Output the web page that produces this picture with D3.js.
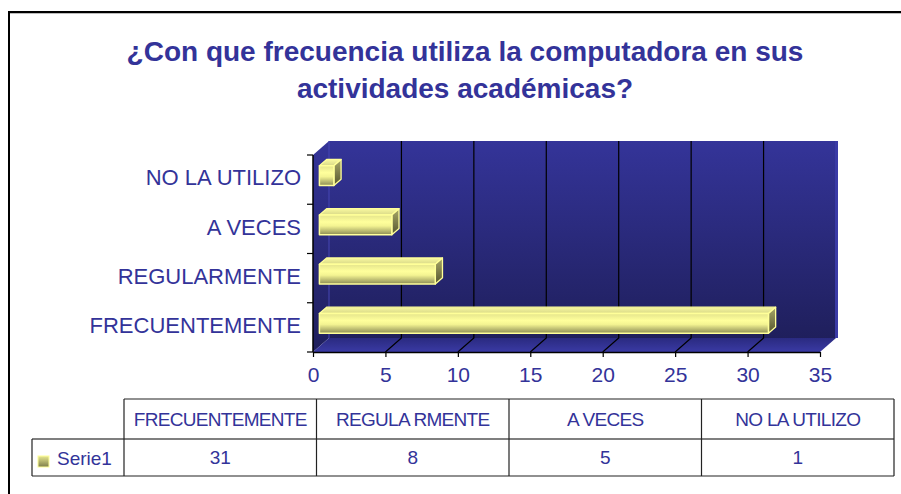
<!DOCTYPE html>
<html>
<head>
<meta charset="utf-8">
<script src="https://cdn.jsdelivr.net/npm/d3@7"></script>
<style>
  html, body { margin: 0; padding: 0; background: #ffffff; }
  svg { display: block; font-family: "Liberation Sans", Arial, sans-serif; }
</style>
</head>
<body>
<svg id="chart" width="901" height="494"></svg>
<script>
// ---- data ----
const titleLines = ["¿Con que frecuencia utiliza la computadora en sus", "actividades académicas?"];
const categories = ["FRECUENTEMENTE", "REGULARMENTE", "A VECES", "NO LA UTILIZO"];
const tableHeaders = ["FRECUENTEMENTE", "REGULA RMENTE", "A VECES", "NO LA  UTILIZO"];
const values = [31, 8, 5, 1];
const seriesName = "Serie1";
const xTicks = [0, 5, 10, 15, 20, 25, 30, 35];
const xDomain = [0, 35];

// ---- layout ----
const W = 901, H = 494;
const plot = { left: 313, right: 820, top: 155, bottom: 352 };
const depth = { dx: 16, dy: -14 };
const barDepth = [0.4, 0.85];
const blue = "#333399";

const svg = d3.select("#chart");
const defs = svg.append("defs");

function lg(id, stops, x2, y2) {
  const g = defs.append("linearGradient").attr("id", id)
    .attr("x1", 0).attr("y1", 0).attr("x2", x2).attr("y2", y2);
  stops.forEach(s => g.append("stop").attr("offset", s[0]).attr("stop-color", s[1]));
}
lg("wallGrad", [[0, "#343499"], [1, "#1f1f5c"]], 0, 1);
lg("floorGrad", [[0, "#2a2a80"], [1, "#3a3aa4"]], 0, 1);
lg("frontGrad", [[0, "#e4e48c"], [0.35, "#ffff9c"], [0.55, "#f4f492"], [1, "#8a8a55"]], 0, 1);
lg("topGrad", [[0, "#fafaa0"], [1, "#d8d888"]], 0, 1);
lg("sideGrad", [[0, "#a8a868"], [1, "#55552e"]], 0, 1);
lg("keyGrad", [[0, "#e8e890"], [1, "#7d7d4a"]], 0, 1);

// ---- outer frame ----
svg.append("line").attr("x1", 9).attr("y1", 12).attr("x2", W).attr("y2", 12)
  .attr("stroke", "#000").attr("stroke-width", 2);
svg.append("line").attr("x1", 10).attr("y1", 13.5).attr("x2", W).attr("y2", 13.5)
  .attr("stroke", "#bbb").attr("stroke-width", 1);
svg.append("line").attr("x1", 9).attr("y1", 11).attr("x2", 9).attr("y2", H)
  .attr("stroke", "#000").attr("stroke-width", 2);

// ---- title ----
svg.append("g").selectAll("text").data(titleLines).join("text")
  .attr("x", 465).attr("y", (d, i) => 61 + i * 37)
  .attr("text-anchor", "middle")
  .attr("font-size", 28).attr("font-weight", "bold").attr("fill", blue)
  .text(d => d);

// ---- scales ----
const x = d3.scaleLinear().domain(xDomain).range([plot.left, plot.right]);
const y = d3.scaleBand().domain(categories).range([plot.bottom, plot.top]);

const P = (px, py, f) => [px + depth.dx * f, py + depth.dy * f];
const poly = pts => "M" + pts.map(p => p.join(",")).join("L") + "Z";

// ---- walls ----
const g3 = svg.append("g");
g3.append("path").attr("d", poly([P(x(0), plot.top, 1), P(x(35), plot.top, 1), P(x(35), plot.bottom, 1), P(x(0), plot.bottom, 1)]))
  .attr("fill", "url(#wallGrad)");
g3.append("rect").attr("x", x(35) + depth.dx - 1).attr("y", plot.top + depth.dy)
  .attr("width", 3).attr("height", plot.bottom - plot.top)
  .attr("fill", "#3a3aa6");
g3.append("path").attr("d", poly([P(x(0), plot.top, 0), P(x(0), plot.top, 1), P(x(0), plot.bottom, 1), P(x(0), plot.bottom, 0)]))
  .attr("fill", "url(#wallGrad)");
g3.append("path").attr("d", poly([P(x(0), plot.bottom, 0), P(x(0), plot.bottom, 1), P(x(35), plot.bottom, 1), P(x(35), plot.bottom, 0)]))
  .attr("fill", "url(#floorGrad)");
g3.append("line")
  .attr("x1", x(0) + depth.dx).attr("y1", plot.top + depth.dy)
  .attr("x2", x(0) + depth.dx).attr("y2", plot.bottom + depth.dy)
  .attr("stroke", "#4646b4").attr("stroke-width", 1);

const inner = xTicks.filter(t => t > xDomain[0] && t < xDomain[1]);
g3.selectAll(".grid").data(inner).join("path").attr("class", "grid")
  .attr("d", t => "M" + [P(x(t), plot.bottom, 0), P(x(t), plot.bottom, 1), P(x(t), plot.top, 1)].map(p => p.join(",")).join("L"))
  .attr("fill", "none").attr("stroke", "#000").attr("stroke-width", 1.2);

// ---- bars ----
const bw = y.bandwidth();
const barTop = 0.331, barBot = 0.735;
const bars = svg.append("g").selectAll("g").data(categories.map((c, i) => ({ c, v: values[i] }))).join("g");
bars.each(function (d) {
  const g = d3.select(this);
  const y0 = y(d.c) + bw * barTop, y1 = y(d.c) + bw * barBot;
  const xa = x(0), xb = x(d.v);
  const [f0, f1] = barDepth;
  g.append("path").attr("d", poly([P(xa, y0, f0), P(xb, y0, f0), P(xb, y0, f1), P(xa, y0, f1)]))
    .attr("fill", "url(#topGrad)").attr("stroke", "#ffff99").attr("stroke-width", 1.3).attr("stroke-linejoin", "round");
  g.append("path").attr("d", poly([P(xb, y0, f0), P(xb, y0, f1), P(xb, y1, f1), P(xb, y1, f0)]))
    .attr("fill", "url(#sideGrad)").attr("stroke", "#ffff99").attr("stroke-width", 1.3).attr("stroke-linejoin", "round");
  g.append("path").attr("d", poly([P(xa, y0, f0), P(xb, y0, f0), P(xb, y1, f0), P(xa, y1, f0)]))
    .attr("fill", "url(#frontGrad)").attr("stroke", "#ffff99").attr("stroke-width", 1.5).attr("stroke-linejoin", "round");
});

// ---- axes ----
const xAxis = svg.append("g").attr("transform", `translate(0,${plot.bottom})`)
  .call(d3.axisBottom(x).tickValues(xTicks).tickSize(5).tickPadding(10).tickSizeOuter(0));
xAxis.select(".domain").attr("stroke", "#000").attr("stroke-width", 1.5);
xAxis.selectAll(".tick line").attr("stroke", "#000").attr("stroke-width", 1.2);
xAxis.selectAll(".tick text").attr("font-size", 21).attr("fill", blue)
  .attr("font-family", '"Liberation Sans", Arial, sans-serif');

svg.append("line").attr("x1", plot.left).attr("x2", plot.left).attr("y1", plot.top).attr("y2", plot.bottom)
  .attr("stroke", "#000").attr("stroke-width", 1.5);
const bounds = categories.map(c => y(c)).concat([plot.bottom]);
svg.append("g").selectAll("line").data(bounds).join("line")
  .attr("x1", plot.left - 6).attr("x2", plot.left).attr("y1", d => d).attr("y2", d => d)
  .attr("stroke", "#000").attr("stroke-width", 1.2);
svg.append("g").selectAll("text").data(categories).join("text")
  .attr("x", 301).attr("y", c => y(c) + bw / 2 - 2).attr("dy", "0.35em")
  .attr("text-anchor", "end").attr("font-size", 22).attr("fill", blue)
  .text(c => c);

// ---- data table ----
const tbl = { left: 32, colStart: 124, right: 894, top: 399, mid: 439, bottom: 476 };
const col = d3.scaleBand().domain(categories).range([tbl.colStart, tbl.right]);
const tg = svg.append("g").attr("stroke", "#222").attr("stroke-width", 1.2);
tg.append("line").attr("x1", tbl.colStart).attr("x2", tbl.right).attr("y1", tbl.top).attr("y2", tbl.top);
tg.append("line").attr("x1", tbl.left).attr("x2", tbl.right).attr("y1", tbl.mid).attr("y2", tbl.mid).attr("stroke", "#555").attr("stroke-width", 1.5);
tg.append("line").attr("x1", tbl.left).attr("x2", tbl.right).attr("y1", tbl.bottom).attr("y2", tbl.bottom);
tg.append("line").attr("x1", tbl.left).attr("x2", tbl.left).attr("y1", tbl.mid).attr("y2", tbl.bottom);
const vx = categories.map(c => col(c)).concat([tbl.right]);
tg.selectAll(".v").data(vx).join("line").attr("class", "v")
  .attr("x1", d => d).attr("x2", d => d).attr("y1", tbl.top).attr("y2", tbl.bottom);

svg.append("g").selectAll("text").data(categories).join("text")
  .attr("x", c => col(c) + col.bandwidth() / 2).attr("y", (tbl.top + tbl.mid) / 2).attr("dy", "0.35em")
  .attr("text-anchor", "middle").attr("font-size", 19).attr("fill", blue).attr("letter-spacing", -0.7)
  .text((c, i) => tableHeaders[i]);
svg.append("g").selectAll("text").data(values).join("text")
  .attr("x", (v, i) => col(categories[i]) + col.bandwidth() / 2).attr("y", (tbl.mid + tbl.bottom) / 2).attr("dy", "0.35em")
  .attr("text-anchor", "middle").attr("font-size", 19).attr("fill", blue)
  .text(v => v);
svg.append("rect").attr("x", 38).attr("y", 456).attr("width", 11).attr("height", 11)
  .attr("fill", "url(#keyGrad)").attr("stroke", "#ffff99").attr("stroke-width", 1);
svg.append("text").attr("x", 57).attr("y", (tbl.mid + tbl.bottom) / 2 + 1).attr("dy", "0.35em")
  .attr("font-size", 19).attr("fill", blue).text(seriesName);
</script>
</body>
</html>
